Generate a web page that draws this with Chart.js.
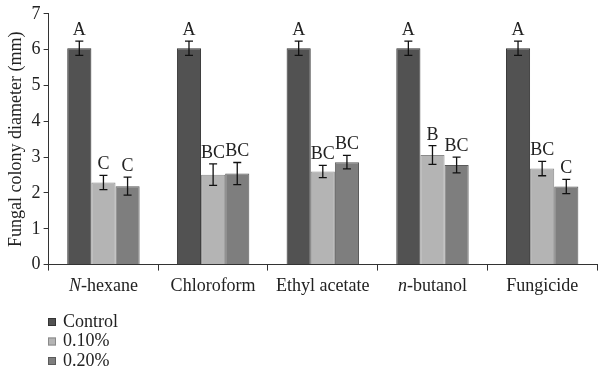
<!DOCTYPE html>
<html>
<head>
<meta charset="utf-8">
<script src="https://cdn.jsdelivr.net/npm/chart.js@4.4.1/dist/chart.umd.min.js"></script>
<style>
  html, body { margin: 0; padding: 0; background: #fff; }
  #wrap { width: 600px; height: 373px; }
</style>
</head>
<body>
<div id="wrap"><canvas id="fungalChart"></canvas></div>
<script>
// data
const categories = ['N-hexane', 'Chloroform', 'Ethyl acetate', 'n-butanol', 'Fungicide'];
const italicPrefix = ['N', '', '', 'n', ''];
const seriesNames = ['Control', '0.10%', '0.20%'];
const control = [6.04, 6.04, 6.04, 6.04, 6.04];
const controlErr = [0.2, 0.2, 0.2, 0.2, 0.2];
const conc010 = [2.29, 2.51, 2.6, 3.06, 2.68];
const conc010Err = [0.2, 0.3, 0.17, 0.26, 0.2];
const conc020 = [2.19, 2.54, 2.86, 2.78, 2.18];
const conc020Err = [0.25, 0.31, 0.19, 0.22, 0.2];
const controlLetters = ['A', 'A', 'A', 'A', 'A'];
const conc010Letters = ['C', 'BC', 'BC', 'B', 'BC'];
const conc020Letters = ['C', 'BC', 'BC', 'BC', 'C'];
const yTicks = [0, 1, 2, 3, 4, 5, 6, 7];

const FONT = '"Liberation Serif", "Times New Roman", serif';
const fills = ['#525252', '#b4b4b4', '#7e7e7e'];
const edges = ['#333333', '#8a8a8a', '#5a5a5a'];
const errs = [controlErr, conc010Err, conc020Err];
const letters = [controlLetters, conc010Letters, conc020Letters];

const extrasPlugin = {
    id: 'extras',
    afterDatasetsDraw(chart) {
        const ctx = chart.ctx;
        const y = chart.scales.y;
        ctx.save();
        // error bars + significance letters
        chart.data.datasets.forEach(function(ds, di) {
            const meta = chart.getDatasetMeta(di);
            meta.data.forEach(function(bar, i) {
                const v = ds.data[i], e = errs[di][i];
                const top = y.getPixelForValue(v + e);
                const bot = y.getPixelForValue(v - e);
                ctx.strokeStyle = '#111';
                ctx.lineWidth = 1.3;
                ctx.beginPath();
                ctx.moveTo(bar.x, top); ctx.lineTo(bar.x, bot);
                ctx.moveTo(bar.x - 4, top); ctx.lineTo(bar.x + 4, top);
                ctx.moveTo(bar.x - 4, bot); ctx.lineTo(bar.x + 4, bot);
                ctx.stroke();
                ctx.fillStyle = '#222';
                ctx.font = '18px ' + FONT;
                ctx.textAlign = 'center';
                ctx.textBaseline = 'alphabetic';
                ctx.fillText(letters[di][i], bar.x, top - 6);
            });
        });
        ctx.restore();
    },
    afterDraw(chart) {
        const ctx = chart.ctx;
        const x = chart.scales.x;
        ctx.save();
        ctx.fillStyle = '#222';
        ctx.textBaseline = 'middle';
        ctx.textAlign = 'left';
        // category labels with italic prefix
        categories.forEach(function(label, i) {
            const pre = italicPrefix[i];
            const rest = label.slice(pre.length);
            ctx.font = 'italic 18px ' + FONT;
            const wPre = ctx.measureText(pre).width;
            ctx.font = '18px ' + FONT;
            const wRest = ctx.measureText(rest).width;
            let cx = x.getPixelForValue(i) - (wPre + wRest) / 2;
            ctx.font = 'italic 18px ' + FONT;
            ctx.fillText(pre, cx, 286);
            ctx.font = '18px ' + FONT;
            ctx.fillText(rest, cx + wPre, 286);
        });
        // vertical legend
        seriesNames.forEach(function(name, i) {
            const cy = 322 + i * 19.5;
            ctx.fillStyle = fills[i];
            ctx.fillRect(48, cy - 4, 8, 8);
            ctx.strokeStyle = edges[i];
            ctx.lineWidth = 1;
            ctx.strokeRect(48.5, cy - 3.5, 7, 7);
            ctx.fillStyle = '#222';
            ctx.font = '18px ' + FONT;
            ctx.fillText(name, 63, cy);
        });
        ctx.restore();
    }
};

const ctx = document.getElementById('fungalChart').getContext('2d');
const fungalChart = new Chart(ctx, {
    type: 'bar',
    data: {
        labels: categories,
        datasets: [control, conc010, conc020].map(function(d, i) {
            return {
                label: seriesNames[i],
                data: d,
                backgroundColor: fills[i],
                borderColor: edges[i],
                borderWidth: 1,
                barPercentage: 1.0,
                categoryPercentage: 0.66
            };
        })
    },
    options: {
        responsive: true,
        maintainAspectRatio: false,
        animation: false,
        layout: { padding: { left: 5, right: 3, top: 0, bottom: 76 } },
        scales: {
            x: {
                grid: { display: true, offset: true, drawOnChartArea: false, tickLength: 6, color: '#333' },
                border: { color: '#333', width: 1 },
                ticks: { color: 'rgba(0,0,0,0)', font: { family: FONT, size: 17 } }
            },
            y: {
                min: 0,
                max: 7,
                afterBuildTicks: function(axis) { axis.ticks = yTicks.map(function(v) { return { value: v }; }); },
                grid: { display: true, drawOnChartArea: false, tickLength: 5, color: '#333' },
                border: { color: '#333', width: 1 },
                ticks: { color: '#222', padding: 3, font: { family: FONT, size: 18 } },
                title: {
                    display: true,
                    text: 'Fungal colony diameter (mm)',
                    color: '#222',
                    padding: { top: 0, bottom: 2 },
                    font: { family: FONT, size: 18 }
                }
            }
        },
        plugins: {
            legend: { display: false },
            tooltip: { enabled: false }
        }
    },
    plugins: [extrasPlugin]
});
</script>
</body>
</html>
